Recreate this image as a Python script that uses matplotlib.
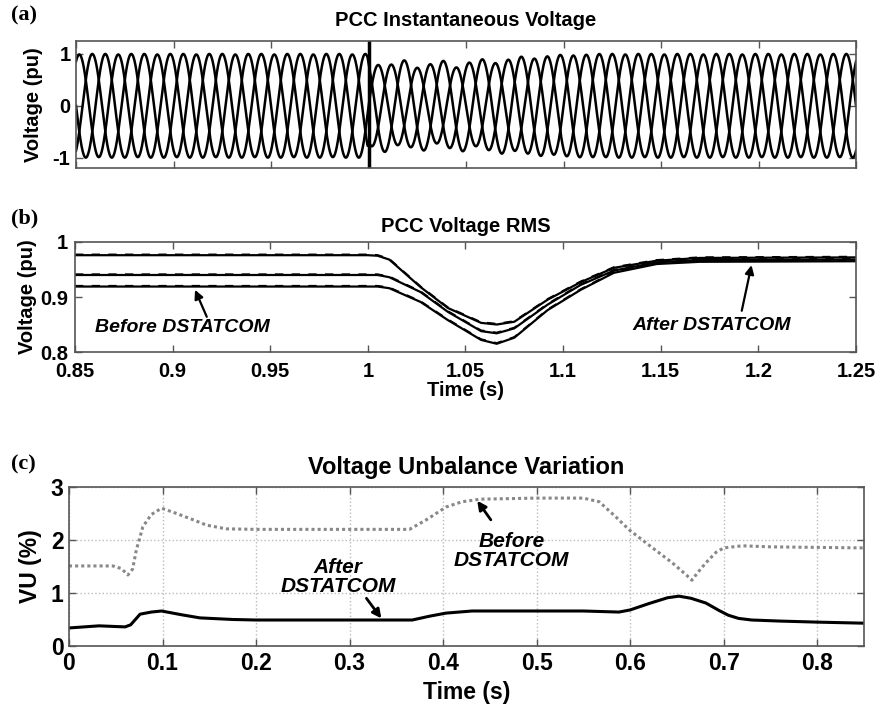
import numpy as np
import matplotlib.pyplot as plt

# ---- data ----
# (a) instantaneous voltage: 50 Hz, per-phase amplitude envelope
freq = 50.0
env_t = [0.85, 0.9995, 1.0005, 1.015, 1.03, 1.045, 1.06, 1.075, 1.09, 1.105, 1.12, 1.25]
env_a = [1.00, 1.00, 0.80, 0.76, 0.72, 0.74, 0.80, 0.87, 0.93, 0.97, 1.00, 1.00]
env_b = [0.99, 0.99, 0.78, 0.80, 0.80, 0.82, 0.85, 0.90, 0.95, 0.98, 0.99, 0.99]
env_c = [1.00, 1.00, 0.90, 0.88, 0.86, 0.87, 0.90, 0.94, 0.97, 0.99, 1.00, 1.00]
fault_time = 1.0

# (b) RMS voltage of the three phases (before = dashed, after = solid)
rms_t = [0.85, 1.0, 1.005, 1.011, 1.027, 1.041, 1.058, 1.066, 1.075, 1.092, 1.109, 1.126, 1.148, 1.17, 1.25]
rms_1 = [0.976, 0.976, 0.975, 0.968, 0.918, 0.880, 0.853, 0.850, 0.855, 0.895, 0.927, 0.953, 0.966, 0.971, 0.972]
rms_2 = [0.940, 0.940, 0.940, 0.936, 0.909, 0.873, 0.838, 0.834, 0.843, 0.886, 0.922, 0.948, 0.963, 0.967, 0.968]
rms_3 = [0.919, 0.919, 0.919, 0.916, 0.891, 0.858, 0.822, 0.815, 0.826, 0.876, 0.913, 0.944, 0.960, 0.964, 0.965]

# (c) voltage unbalance
vu_before_t = [0.0, 0.047, 0.056, 0.063, 0.068, 0.072, 0.079, 0.088, 0.099, 0.115, 0.13, 0.147, 0.168,
               0.2, 0.3, 0.364, 0.382, 0.403, 0.42, 0.44, 0.5, 0.55, 0.567, 0.585, 0.599, 0.627,
               0.645, 0.66, 0.666, 0.672, 0.681, 0.692, 0.70, 0.72, 0.75, 0.8, 0.85]
vu_before = [1.51, 1.51, 1.46, 1.34, 1.45, 1.81, 2.25, 2.48, 2.60, 2.50, 2.40, 2.28, 2.21,
             2.20, 2.20, 2.20, 2.38, 2.62, 2.72, 2.77, 2.79, 2.79, 2.72, 2.43, 2.19, 1.81,
             1.57, 1.34, 1.24, 1.38, 1.57, 1.77, 1.85, 1.89, 1.87, 1.86, 1.85]
vu_after_t = [0.0, 0.032, 0.06, 0.066, 0.076, 0.088, 0.099, 0.12, 0.14, 0.175, 0.2, 0.3, 0.367,
              0.385, 0.403, 0.431, 0.5, 0.55, 0.588, 0.60, 0.62, 0.64, 0.652, 0.665, 0.681,
              0.695, 0.705, 0.716, 0.73, 0.76, 0.8, 0.85]
vu_after = [0.34, 0.38, 0.36, 0.40, 0.60, 0.64, 0.66, 0.59, 0.53, 0.50, 0.49, 0.49, 0.49,
            0.56, 0.62, 0.66, 0.66, 0.66, 0.64, 0.68, 0.80, 0.91, 0.94, 0.90, 0.81,
            0.67, 0.58, 0.52, 0.49, 0.47, 0.45, 0.43]

# ---- figure ----
bold = dict(family='Liberation Sans', weight='bold')
fig = plt.figure(figsize=(8.8, 7.08), dpi=100)

def style(ax, size, xpad=4, ypad=4):
    for s in ax.spines.values():
        s.set_color('#555555')
        s.set_linewidth(1.2)
    ax.tick_params(direction='in', top=True, right=True, length=5, width=1,
                   color='#555555', labelsize=size)
    ax.tick_params(axis='x', pad=xpad)
    ax.tick_params(axis='y', pad=ypad)
    for lab in ax.get_xticklabels() + ax.get_yticklabels():
        lab.set_fontfamily('Liberation Sans')
        lab.set_fontweight('bold')

def arrow(ax, tail, tip, lw):
    ax.annotate('', xy=tip, xytext=tail,
                arrowprops=dict(arrowstyle='-|>', color='black', lw=lw,
                                shrinkA=0, shrinkB=0, mutation_scale=13))

# (a)
ax1 = fig.add_axes([0.0864, 0.7627, 0.8864, 0.1794])
t = np.linspace(0.85, 1.25, 6000)
for env, ph in [(env_a, 0.0), (env_b, -2 * np.pi / 3), (env_c, 2 * np.pi / 3)]:
    amp = np.interp(t, env_t, env)
    ax1.plot(t, amp * np.sin(2 * np.pi * freq * t + ph), color='black', lw=1.8)
ax1.axvline(fault_time, color='black', lw=2.5)
ax1.set_xlim(0.85, 1.25)
ax1.set_ylim(-1.2, 1.25)
ax1.set_xticks(np.arange(0.85, 1.26, 0.05))
ax1.set_xticklabels([])
ax1.set_yticks([-1, 0, 1])
ax1.set_yticklabels(['-1', '0', '1'])
ax1.set_ylabel('Voltage (pu)', fontsize=14.5, labelpad=7, **bold)
ax1.set_title('PCC Instantaneous Voltage', fontsize=14.5, pad=11, **bold)
style(ax1, 14.5)

# (b)
ax2 = fig.add_axes([0.0852, 0.5028, 0.8875, 0.1554])
for r in (rms_1, rms_2, rms_3):
    ax2.plot(rms_t, r, color='black', lw=1.6)
    ax2.plot(rms_t, np.array(r) + 0.0015, color='black', lw=1.2, ls=(0, (5, 5)))
ax2.set_xlim(0.85, 1.25)
ax2.set_ylim(0.8, 1.0)
ax2.set_xticks([0.85, 0.9, 0.95, 1.0, 1.05, 1.1, 1.15, 1.2, 1.25])
ax2.set_xticklabels(['0.85', '0.9', '0.95', '1', '1.05', '1.1', '1.15', '1.2', '1.25'])
ax2.set_yticks([0.8, 0.9, 1.0])
ax2.set_yticklabels(['0.8', '0.9', '1'])
ax2.set_ylabel('Voltage (pu)', fontsize=14.5, labelpad=2, **bold)
ax2.set_xlabel('Time (s)', fontsize=14.5, labelpad=0, **bold)
ax2.set_title('PCC Voltage RMS', fontsize=14.5, pad=7, **bold)
ax2.text(0.905, 0.845, 'Before DSTATCOM', ha='center', va='center',
         fontsize=14, style='italic', **bold)
arrow(ax2, (0.9175, 0.864), (0.9115, 0.913), 1.6)
ax2.text(1.176, 0.849, 'After DSTATCOM', ha='center', va='center',
         fontsize=14, style='italic', **bold)
arrow(ax2, (1.1915, 0.875), (1.1965, 0.958), 1.6)
style(ax2, 14.5, xpad=7, ypad=5)

# (c)
ax3 = fig.add_axes([0.0784, 0.0876, 0.9034, 0.2246])
ax3.plot(vu_before_t, vu_before, color='#888888', lw=2.2, ls=(0, (1, 1)))
ax3.plot(vu_after_t, vu_after, color='black', lw=2.2)
ax3.set_xlim(0, 0.85)
ax3.set_ylim(0, 3)
ax3.set_xticks([0, 0.1, 0.2, 0.3, 0.4, 0.5, 0.6, 0.7, 0.8])
ax3.set_xticklabels(['0', '0.1', '0.2', '0.3', '0.4', '0.5', '0.6', '0.7', '0.8'])
ax3.set_yticks([0, 1, 2, 3])
ax3.grid(True, color='#bbbbbb', ls=':', lw=1)
ax3.set_ylabel('VU (%)', fontsize=16.5, labelpad=6, **bold)
ax3.set_xlabel('Time (s)', fontsize=16.5, labelpad=5, **bold)
ax3.set_title('Voltage Unbalance Variation', fontsize=17, pad=9, **bold)
ax3.text(0.473, 1.79, 'Before\nDSTATCOM', ha='center', va='center',
         fontsize=15, style='italic', linespacing=1.05, **bold)
arrow(ax3, (0.451, 2.38), (0.4365, 2.74), 2.0)
ax3.text(0.288, 1.30, 'After\nDSTATCOM', ha='center', va='center',
         fontsize=15, style='italic', linespacing=1.05, **bold)
arrow(ax3, (0.318, 0.90), (0.334, 0.52), 2.0)
style(ax3, 16.5)

serif = dict(family='Liberation Serif', weight='bold', fontsize=16)
fig.text(0.012, 0.978, '(a)', va='center', **serif)
fig.text(0.012, 0.692, '(b)', va='center', **serif)
fig.text(0.012, 0.344, '(c)', va='center', **serif)

fig.savefig('out.png', dpi=100, facecolor='white')
